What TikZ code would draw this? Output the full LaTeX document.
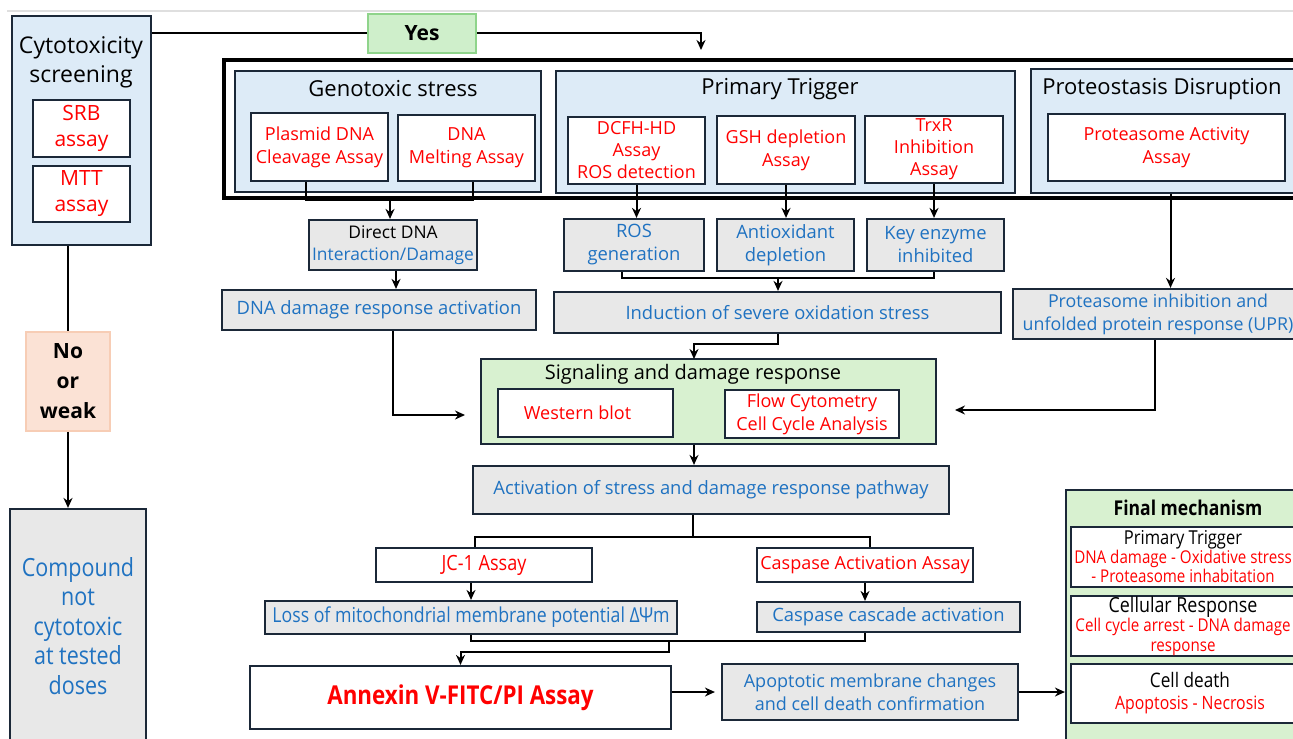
\documentclass[tikz,border=0pt]{standalone}
\usepackage{fontspec}
\setmainfont{Open Sans}
\newfontfamily\narrowfont{Open Sans}[FakeStretch=0.86]
\usetikzlibrary{arrows.meta,positioning}

\definecolor{navyline}{HTML}{1B2838}
\definecolor{paleblue}{HTML}{DDEBF7}
\definecolor{boxgray}{HTML}{E8E8E8}
\definecolor{textblue}{HTML}{1F72C1}
\definecolor{palegreen}{HTML}{D8F1D0}
\definecolor{yesfill}{HTML}{CFEFCB}
\definecolor{yesline}{HTML}{8FD48B}
\definecolor{peachfill}{HTML}{FBE2D5}
\definecolor{peachline}{HTML}{F7CDB5}
\definecolor{assayred}{HTML}{FF0000}

\tikzset{
  panel/.style={draw=navyline, fill=paleblue, line width=1.1pt, inner sep=0pt},
  greenpanel/.style={panel, fill=palegreen},
  assay/.style={draw=navyline, fill=white, line width=1.1pt, inner sep=0pt,
    align=center, text=assayred, font=\fontsize{9}{11.5}\selectfont},
  result/.style={draw=navyline, fill=boxgray, line width=1.1pt, inner sep=0pt,
    align=center, text=textblue, font=\fontsize{9.2}{11.5}\selectfont},
  heading/.style={align=center, inner sep=0pt, font=\fontsize{11}{14.5}\selectfont},
  link/.style={line width=1pt},
  >={Stealth[length=5pt,width=4.5pt]},
}

\begin{document}
\begin{tikzpicture}[x=0.5pt, y=-0.5pt]
 \useasboundingbox[fill=white] (0,0) rectangle (1293,738);
 \draw[gray!25, line width=0.6pt] (7,11) -- (1293,11);

 % screening column
 \node[panel, minimum width=69.5pt, minimum height=114.5pt] (cyto) at (81.5,130.5) {};
 \node[heading, font=\fontsize{11.5}{14.5}\selectfont] (cytotitle) at (81,62) {Cytotoxicity\\screening};
 \node[assay, minimum width=48.5pt, minimum height=28.5pt, font=\fontsize{10.5}{13}\selectfont] (srb) at (81.5,128.5) {SRB\\assay};
 \node[assay, minimum width=48.5pt, minimum height=28pt, font=\fontsize{10.5}{13}\selectfont] (mtt) at (81.5,194) {MTT\\assay};
 \node[draw=yesline, fill=yesfill, line width=0.8pt, minimum width=54pt, minimum height=19.5pt,
   font=\fontsize{10.5}{12}\selectfont\bfseries] (yes) at (422,33.5) {Yes};
 \node[draw=peachline, fill=peachfill, line width=0.8pt, minimum width=42pt, minimum height=49.5pt,
   align=center, font=\fontsize{10.5}{15}\selectfont\bfseries] (no) at (68,381.5) {No\\or\\weak};
 \node[result, minimum width=68pt, minimum height=117pt, font=\narrowfont\fontsize{12.5}{14.8}\selectfont]
   (compound) at (78,626) {Compound\\not\\cytotoxic\\at tested\\doses};

 % assay frame
 \node[draw, line width=1.6pt, minimum width=548pt, minimum height=69pt] (frame) at (772,129) {};
 \node[panel, minimum width=153pt, minimum height=60.5pt] (geno) at (388,131.5) {};
 \node[heading] (genotitle) at (393,89) {Genotoxic stress};
 \node[assay, minimum width=68.5pt, minimum height=34pt] (plasmid) at (319.5,147) {Plasmid DNA\\Cleavage Assay};
 \node[assay, minimum width=68.5pt, minimum height=33pt] (melting) at (466.5,148) {DNA\\Melting Assay};

 \node[panel, minimum width=229.5pt, minimum height=61pt] (prim) at (785.5,132) {};
 \node[heading] (primtitle) at (780,89) {Primary Trigger};
 \node[assay, minimum width=68.5pt, minimum height=33.5pt, font=\fontsize{9}{11}\selectfont] (dcfh) at (636.5,150.5) {DCFH-HD\\Assay\\ROS detection};
 \node[assay, minimum width=69pt, minimum height=34pt] (gsh) at (786,150) {GSH depletion\\Assay};
 \node[assay, minimum width=69pt, minimum height=33.5pt, font=\fontsize{9}{11}\selectfont] (trxr) at (934,149.5) {TrxR\\Inhibition\\Assay};

 \node[panel, minimum width=139.5pt, minimum height=62pt] (proteo) at (1170.5,131) {};
 \node[heading] (proteotitle) at (1162,89) {Proteostasis Disruption};
 \node[assay, minimum width=118.5pt, minimum height=33.5pt] (pact) at (1166.5,147.5) {Proteasome Activity\\Assay};

 % effects
 \node[result, minimum width=84pt, minimum height=25pt, font=\fontsize{8.7}{11}\selectfont] (direct) at (393,245) {{\color{black}Direct DNA}\\Interaction/Damage};
 \node[result, minimum width=157pt, minimum height=20pt] (ddr) at (379,310) {DNA damage response activation};
 \node[result, minimum width=70pt, minimum height=26pt] (ros) at (634,245) {ROS\\generation};
 \node[result, minimum width=68.5pt, minimum height=26pt] (antiox) at (785.5,245) {Antioxidant\\depletion};
 \node[result, minimum width=68.5pt, minimum height=26pt] (keyenz) at (935.5,245) {Key enzyme\\inhibited};
 \node[result, minimum width=223.5pt, minimum height=20.5pt] (induct) at (777.5,312.5) {Induction of severe oxidation stress};
 \node[result, minimum width=145pt, minimum height=25pt, font=\fontsize{8.9}{11.5}\selectfont] (upr) at (1158,314) {Proteasome inhibition and\\unfolded protein response (UPR)};

 % signalling
 \node[greenpanel, minimum width=227.5pt, minimum height=42.5pt] (signal) at (708.5,401.5) {};
 \node[heading, font=\fontsize{10}{13}\selectfont] (sigtitle) at (693,374) {Signaling and damage response};
 \node[assay, minimum width=87.5pt, minimum height=24pt] (western) at (585.5,413) {Western blot\hspace*{8pt}};
 \node[assay, minimum width=87pt, minimum height=24pt] (flow) at (812,414) {Flow Cytometry\\Cell Cycle Analysis};
 \node[result, minimum width=238pt, minimum height=24pt] (activ) at (711,490) {Activation of stress and damage response pathway};

 % apoptosis
 \node[assay, minimum width=108pt, minimum height=17pt, font=\narrowfont\fontsize{10.5}{11}\selectfont] (jc1) at (484,565) {JC-1 Assay};
 \node[assay, minimum width=108pt, minimum height=17pt] (casp) at (865,565) {Caspase Activation Assay};
 \node[result, minimum width=206pt, minimum height=16.5pt, font=\narrowfont\fontsize{10.3}{11}\selectfont] (loss) at (471,617.5) {Loss of mitochondrial membrane potential ΔΨm};
 \node[result, minimum width=131.5pt, minimum height=15pt] (cascade) at (888.5,617) {Caspase cascade activation};
 \node[assay, minimum width=210.5pt, minimum height=31.5pt, font=\narrowfont\fontsize{13}{14}\selectfont\bfseries] (annexin) at (460.5,697.5) {Annexin V-FITC/PI Assay};
 \node[result, minimum width=148pt, minimum height=28pt, font=\fontsize{9}{11.5}\selectfont] (apopt) at (870,692) {Apoptotic membrane changes\\and cell death confirmation};

 % final mechanism
 \node[greenpanel, minimum width=117pt, minimum height=135pt] (final) at (1183,625) {};
 \node[heading, font=\narrowfont\fontsize{10.2}{11}\selectfont\bfseries] (finaltitle) at (1188,508) {Final mechanism};
 \node[assay, minimum width=112pt, minimum height=30pt, font=\narrowfont\fontsize{8.8}{9.5}\selectfont] (fpt) at (1183,557)
   {{\color{black}\fontsize{9.6}{9.5}\selectfont Primary Trigger}\\DNA damage - Oxidative stress\\- Proteasome inhabitation};
 \node[assay, minimum width=112pt, minimum height=30pt, font=\narrowfont\fontsize{8.8}{9.8}\selectfont] (fcr) at (1183,626)
   {{\color{black}\fontsize{10.4}{9.8}\selectfont Cellular Response}\\Cell cycle arrest - DNA damage\\response};
 \node[assay, minimum width=119pt, minimum height=29.5pt, font=\narrowfont\fontsize{9.2}{11}\selectfont] (fcd) at (1190,693.5)
   {{\color{black}\fontsize{10}{11}\selectfont Cell death}\\Apoptosis - Necrosis};

 % connectors
 \draw[link] (cyto.east |- yes.west) -- (yes.west);
 \coordinate (entry) at (701,50);
 \draw[link,->] (yes.east) -| (entry);
 \draw[link] (no.north |- cyto.south) -- (no.north);
 \draw[link,->] (no.south) -- (no.south |- compound.north);

 \coordinate (genojoin) at (390,200);
 \draw[link] ([xshift=-7pt]plasmid.south) |- (genojoin) -| ([xshift=3pt]melting.south);
 \draw[link,->] (genojoin) -- (genojoin |- direct.north);
 \draw[link,->] ([xshift=1.5pt]direct.south) -- ([xshift=1.5pt]direct.south |- ddr.north);
 \coordinate (sigleft) at (465,415);
 \draw[link,->] (direct.south |- ddr.south) |- (sigleft);

 \draw[link,->] (dcfh.south) -- (dcfh.south |- ros.north);
 \draw[link,->] (gsh.south) -- (gsh.south |- antiox.north);
 \draw[link,->] (trxr.south) -- (trxr.south |- keyenz.north);
 \coordinate (oxjoin) at (778,278);
 \draw[link] ([xshift=-6pt]ros.south) |- (oxjoin) -| ([xshift=-1pt]keyenz.south);
 \draw[link,->] (oxjoin) -- (oxjoin |- induct.north);
 \coordinate (sigtop) at (694,359);
 \draw[link,->] (oxjoin |- induct.south) -- ++(0,10) -| (sigtop);

 \draw[link,->] (proteo.south) -- (proteo.south |- upr.north);
 \coordinate (sigright) at (955,410);
 \draw[link,->] ([xshift=-1.5pt]upr.south) |- (sigright);

 \draw[link,->] (sigtop |- signal.south) -- (sigtop |- activ.north);
 \coordinate (actjoin) at (693,537);
 \draw[link] (actjoin |- activ.south) -- (actjoin);
 \draw[link] ([xshift=-4.5pt]jc1.north) |- (actjoin) -| ([xshift=2.5pt]casp.north);
 \draw[link,->] (jc1.south -| loss.north) -- (loss.north);
 \draw[link,->] (casp.south) -- (casp.south |- cascade.north);
 \coordinate (deathjoin) at (669,641);
 \draw[link] (loss.south) |- (deathjoin) -| (casp.south |- cascade.south);
 \draw[link,->] (deathjoin) -- ++(0,11) -| (annexin.north);
 \draw[link,->,shorten >=3pt] (apopt.west -| annexin.east) -- (apopt.west);
 \draw[link,->] (apopt.east) -- (apopt.east -| final.west);
\end{tikzpicture}
\end{document}
